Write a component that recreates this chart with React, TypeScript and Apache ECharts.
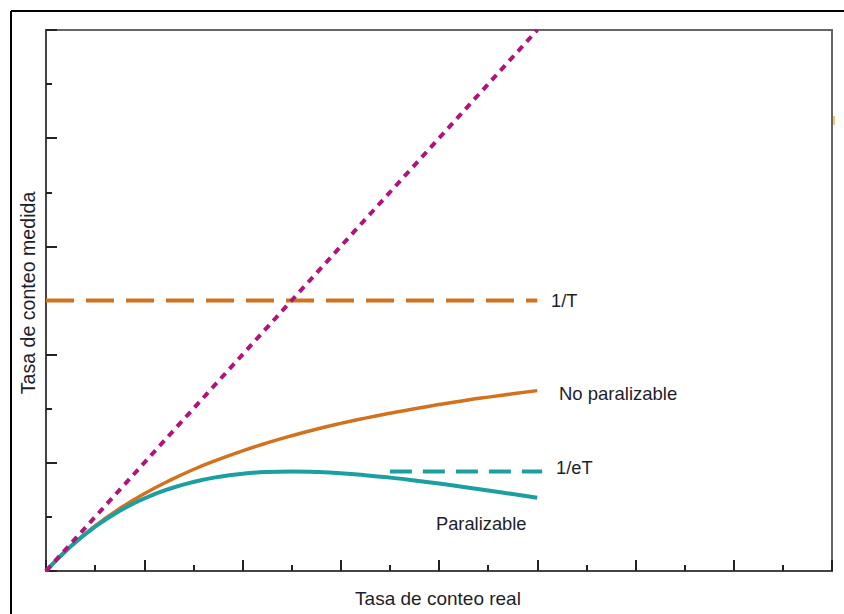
import React, { useEffect, useRef } from "react";
import * as echarts from "echarts";

const realRate = [0, 0.25, 0.5, 0.75, 1, 1.25, 1.5, 1.75, 2, 2.25, 2.5, 2.75, 3, 3.25, 3.5, 3.75, 4, 4.25, 4.5, 4.75, 5];
// Non-paralyzable measured rate
const nonParalyzable = [0, 0.227, 0.417, 0.577, 0.714, 0.833, 0.938, 1.029, 1.111, 1.184, 1.25, 1.31, 1.364, 1.413, 1.458, 1.5, 1.538, 1.574, 1.607, 1.638, 1.667];
// Paralyzable measured rate
const paralyzable = [0, 0.226, 0.409, 0.556, 0.67, 0.758, 0.823, 0.869, 0.899, 0.915, 0.92, 0.915, 0.904, 0.886, 0.863, 0.837, 0.808, 0.776, 0.744, 0.711, 0.677];
// Ideal line (measured = real)
const idealX = [0, 5];
const idealY = [0, 5];
// Asymptotes
const oneOverT = { y: 2.5, x0: 0, x1: 5 };
const oneOverET = { y: 0.92, x0: 3.5, x1: 5.05 };

const labels = {
  x: "Tasa de conteo real",
  y: "Tasa de conteo medida",
  oneT: "1/T",
  nonPar: "No paralizable",
  oneET: "1/eT",
  par: "Paralizable",
};

const ORANGE = "#d2721f";
const TEAL = "#1c9fa1";
const MAGENTA = "#b1137a";
const FAMILY = '"Liberation Sans", Arial, sans-serif';
const TXT = "#1e1e2a";

export default function App() {
  const ref = useRef<HTMLDivElement>(null);
  useEffect(() => {
    if (!ref.current) return;
    const chart = echarts.init(ref.current, undefined, { renderer: "svg" });
    const axisCommon = {
      type: "value" as const,
      axisLine: { show: true, lineStyle: { color: "#444", width: 2 } },
      axisTick: { show: true, inside: true, length: 11, lineStyle: { color: "#222", width: 2 } },
      minorTick: { show: true, splitNumber: 2, length: 6, lineStyle: { color: "#222", width: 2 } },
      axisLabel: { show: false },
      splitLine: { show: false },
      minorSplitLine: { show: false },
    };
    const txt = (text: string, x: number, y: number, size: number, align = "left", extra: any = {}) => ({
      type: "text",
      x,
      y,
      ...extra,
      style: {
        text,
        font: `${size}px ${FAMILY}`,
        fill: TXT,
        textAlign: align,
        textVerticalAlign: "middle",
        align,
        verticalAlign: "middle",
      },
    });
    chart.setOption({
      animation: false,
      backgroundColor: "#fff",
      grid: {
        left: 46,
        right: 12,
        top: 30,
        bottom: 43,
        show: true,
        borderColor: "#666",
        borderWidth: 2,
        backgroundColor: "transparent",
      },
      xAxis: { ...axisCommon, min: 0, max: 8, interval: 1 },
      yAxis: { ...axisCommon, min: 0, max: 5, interval: 1 },
      series: [
        {
          type: "line",
          data: [
            [oneOverT.x0, oneOverT.y],
            [oneOverT.x1, oneOverT.y],
          ],
          symbol: "none",
          lineStyle: { color: ORANGE, width: 4, type: [28, 12] },
        },
        {
          type: "line",
          data: [
            [oneOverET.x0, oneOverET.y],
            [oneOverET.x1, oneOverET.y],
          ],
          symbol: "none",
          lineStyle: { color: TEAL, width: 4, type: [22, 11] },
        },
        {
          type: "line",
          data: realRate.map((x, i) => [x, nonParalyzable[i]]),
          smooth: true,
          symbol: "none",
          lineStyle: { color: ORANGE, width: 3.5 },
        },
        {
          type: "line",
          data: realRate.map((x, i) => [x, paralyzable[i]]),
          smooth: true,
          symbol: "none",
          lineStyle: { color: TEAL, width: 4 },
        },
        {
          type: "line",
          data: idealX.map((x, i) => [x, idealY[i]]),
          symbol: "none",
          lineStyle: { color: MAGENTA, width: 4, type: [7, 6] },
        },
      ],
      graphic: [
        { type: "line", shape: { x1: 11, y1: 11, x2: 844, y2: 11 }, style: { stroke: "#000", lineWidth: 2 } },
        { type: "line", shape: { x1: 11, y1: 11, x2: 11, y2: 614 }, style: { stroke: "#000", lineWidth: 2 } },
        { type: "rect", shape: { x: 833, y: 116, width: 2, height: 9 }, style: { fill: "#f5c66a" } },
        txt(labels.oneT, 551, 300, 18.3),
        txt(labels.nonPar, 559, 393, 18.5),
        txt(labels.oneET, 556, 467, 18.3),
        txt(labels.par, 436, 523, 18.3),
        txt(labels.x, 438, 598, 19, "center"),
        txt(labels.y, 28, 293, 19.6, "center", { rotation: Math.PI / 2 }),
      ],
    });
    return () => chart.dispose();
  }, []);
  return (
    <div
      ref={ref}
      style={{ position: "fixed", left: 0, top: 0, width: 844, height: 614, background: "#fff" }}
    />
  );
}
